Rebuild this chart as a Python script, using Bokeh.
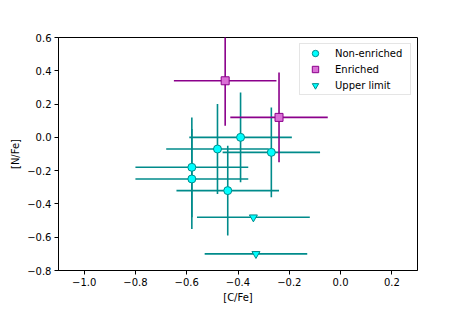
from bokeh.plotting import figure
from bokeh.models import (ColumnDataSource, Legend, LegendItem, FixedTicker,
                          CustomJSTickFormatter, Range1d)
from bokeh.embed import file_html
from bokeh.resources import INLINE

# Non-enriched stars
ne_cfe = [-0.58, -0.58, -0.48, -0.44, -0.39, -0.27]
ne_nfe = [-0.18, -0.25, -0.07, -0.32, 0.00, -0.09]
ne_cerr = [0.22, 0.22, 0.20, 0.20, 0.20, 0.19]
ne_nerr = [0.30, 0.30, 0.27, 0.27, 0.27, 0.27]

# Enriched stars
en_cfe = [-0.45, -0.24]
en_nfe = [0.34, 0.12]
en_cerr = [0.20, 0.19]
en_nerr = [0.27, 0.27]

# Upper limits
ul_cfe = [-0.34, -0.33]
ul_nfe = [-0.48, -0.70]
ul_cerr = [0.22, 0.20]

x_ticks = [-1.0, -0.8, -0.6, -0.4, -0.2, 0.0, 0.2]
y_ticks = [-0.8, -0.6, -0.4, -0.2, 0.0, 0.2, 0.4, 0.6]

TEAL = "#008B8B"
CYAN = "#00FFFF"
DMAG = "#8B008B"
ORCHID = "#DA70D6"
FONT = "DejaVu Sans"

p = figure(output_backend="svg", toolbar_location=None,
           frame_width=359, frame_height=233,
           min_border_left=58, min_border_right=38,
           min_border_top=37, min_border_bottom=31,
           x_range=Range1d(-1.1, 0.3), y_range=Range1d(-0.8, 0.6))
p.xgrid.visible = False
p.ygrid.visible = False
p.outline_line_color = "black"
p.outline_line_width = 1

fmt = CustomJSTickFormatter(code="return tick.toFixed(1).replace('-', '\u2212');")
for ax, ticks, lab in ((p.xaxis[0], x_ticks, "[C/Fe]"), (p.yaxis[0], y_ticks, "[N/Fe]")):
    ax.ticker = FixedTicker(ticks=ticks)
    ax.formatter = fmt
    ax.minor_tick_line_color = None
    ax.major_tick_in = 0
    ax.major_tick_out = 4
    ax.axis_label = lab
    ax.axis_label_text_font = FONT
    ax.axis_label_text_font_size = "10px"
    ax.axis_label_text_font_style = "normal"
    ax.axis_label_text_color = "black"
    ax.major_label_text_font = FONT
    ax.major_label_text_font_size = "10px"
    ax.major_label_text_color = "black"
    ax.major_label_standoff = 3
    ax.axis_label_standoff = 3
    ax.axis_line_color = "black"
    ax.major_tick_line_color = "black"


def seg_src(xs, ys, xe, ye):
    d = dict(x=xs, y=ys,
             xl=[a - e for a, e in zip(xs, xe)], xr=[a + e for a, e in zip(xs, xe)])
    if ye is not None:
        d["yl"] = [a - e for a, e in zip(ys, ye)]
        d["yh"] = [a + e for a, e in zip(ys, ye)]
    return ColumnDataSource(d)

lw = 1.6
ne = seg_src(ne_cfe, ne_nfe, ne_cerr, ne_nerr)
p.segment("xl", "y", "xr", "y", source=ne, line_color=TEAL, line_width=lw)
p.segment("x", "yl", "x", "yh", source=ne, line_color=TEAL, line_width=lw)
r_ne = p.scatter("x", "y", source=ne, marker="circle", size=8,
                 fill_color=CYAN, line_color=TEAL, line_width=1)

en = seg_src(en_cfe, en_nfe, en_cerr, en_nerr)
p.segment("xl", "y", "xr", "y", source=en, line_color=DMAG, line_width=lw)
p.segment("x", "yl", "x", "yh", source=en, line_color=DMAG, line_width=lw)
r_en = p.scatter("x", "y", source=en, marker="square", size=8,
                 fill_color=ORCHID, line_color=DMAG, line_width=1)

ul = seg_src(ul_cfe, ul_nfe, ul_cerr, None)
p.segment("xl", "y", "xr", "y", source=ul, line_color=TEAL, line_width=lw)
r_ul = p.scatter("x", "y", source=ul, marker="inverted_triangle", size=8,
                 fill_color=CYAN, line_color=TEAL, line_width=1)

legend = Legend(items=[LegendItem(label="Non-enriched", renderers=[r_ne]),
                       LegendItem(label="Enriched", renderers=[r_en]),
                       LegendItem(label="Upper limit", renderers=[r_ul])],
                location="top_right", margin=6, padding=1, spacing=0,
                glyph_width=28, glyph_height=16, label_height=16,
                label_width=74, label_standoff=6,
                label_text_font=FONT, label_text_font_size="10px",
                label_text_color="black",
                border_line_color="#cccccc", border_line_width=1,
                background_fill_alpha=0.8)
p.add_layout(legend, "center")

open("out.html", "w").write(file_html(p, INLINE))
